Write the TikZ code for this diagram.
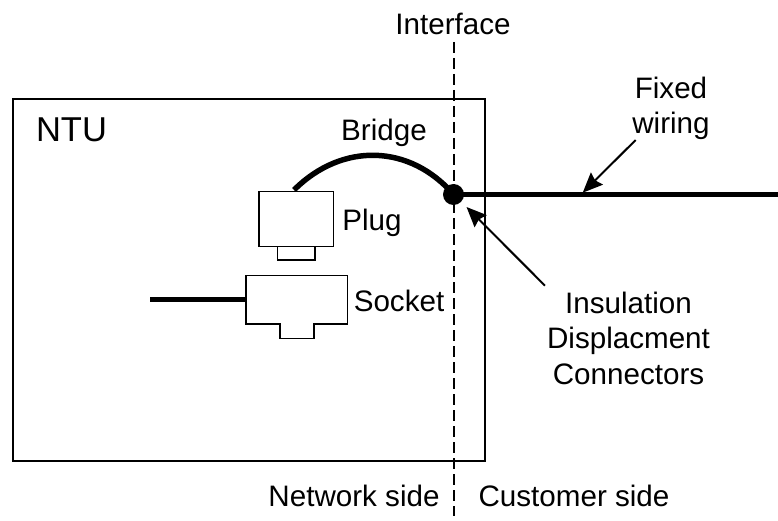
\documentclass[tikz,border=0pt]{standalone}
\usepackage{fontspec}
\setmainfont{Liberation Sans}
\usetikzlibrary{arrows.meta}
\begin{document}
\begin{tikzpicture}[x=1pt,y=-1pt,
  lbl/.style={inner sep=0pt,font=\fontsize{29.6}{35.5}\selectfont,align=center,text=black},
  thin box/.style={draw=black,line width=1.5pt,fill=white},
  thick wire/.style={line width=4.5pt,draw=black},
  pointer/.style={line width=2pt,draw=black,-{Stealth[length=20pt,width=17pt,inset=2.5pt]}}]
\useasboundingbox (0,0) rectangle (778,521);
\node[draw=black,line width=2pt,minimum width=472pt,minimum height=362pt,inner sep=0pt,anchor=north west] (ntu) at (12,98) {};
\coordinate (ifT) at (454,42);
\coordinate (ifB) at (454,516);
\draw[line width=1.3pt,dash pattern=on 11pt off 5pt] (ifT) -- (ifB);
\node[thin box,minimum width=37.3pt,minimum height=15pt,inner sep=0pt,anchor=north west] (plugtab) at (276.7,244) {};
\node[thin box,minimum width=74.7pt,minimum height=55pt,inner sep=0pt,anchor=north west] (plug) at (258,190.7) {};
\node[circle,fill=black,minimum size=21pt,inner sep=0pt] (idc) at (453.5,194.5) {};
\coordinate (bridgeS) at (294,190);
\draw[thick wire,line width=5.5pt] (bridgeS) .. controls (342,142) and (410,144) .. (idc.center);
\coordinate (fixedE) at (778,194.5);
\draw[thick wire] (idc.center) -- (fixedE);
\draw[thin box] (246,275.7) -- (347.7,275.7) -- (347.7,324) -- (314,324) -- (314,338.7) -- (280,338.7) -- (280,324) -- (246,324) -- cycle;
\coordinate (sockW) at (246,299.5);
\coordinate (lineW) at (150,299.5);
\draw[thick wire] (lineW) -- (sockW);
\node[lbl] (tntu) at (71.5,130) {\fontsize{34.5}{40}\selectfont NTU};
\node[lbl] (tif) at (453,24) {Interface};
\node[lbl] (tbr) at (384,133) {Bridge};
\node[lbl] (tpl) at (372,222.5) {Plug};
\node[lbl] (tso) at (399,301) {Socket};
\node[lbl] (tfx) at (671,108.5) {Fixed\\wiring};
\node[lbl] (tin) at (628.5,338) {Insulation\\Displacment\\Connectors};
\node[lbl] (tnw) at (354,496) {Network side};
\node[lbl] (tcu) at (574,496) {Customer side};
\coordinate (fa) at (635.7,140);
\coordinate (fb) at (582.7,192.7);
\draw[pointer] (fa) -- (fb);
\coordinate (ia) at (545,285.7);
\coordinate (ib) at (466.5,207);
\draw[pointer] (ia) -- (ib);
\end{tikzpicture}
\end{document}
